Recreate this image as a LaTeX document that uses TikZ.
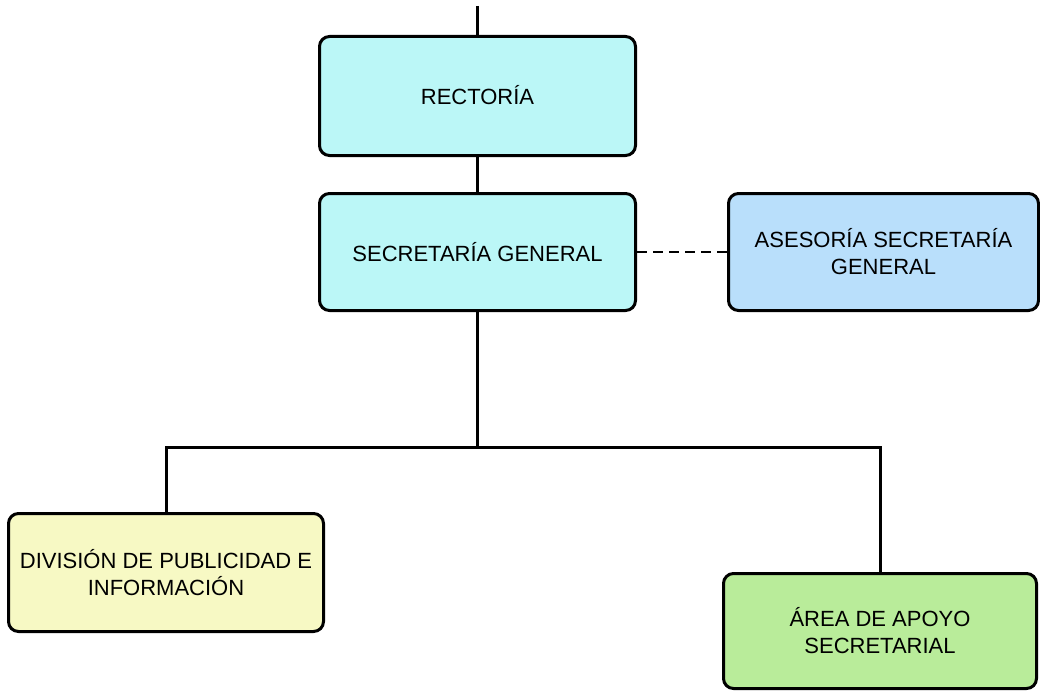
\documentclass[tikz,border=0pt]{standalone}
\usepackage{fontspec}
\setmainfont{Liberation Sans}
\definecolor{cyanbox}{HTML}{BBF7F7}
\definecolor{bluebox}{HTML}{B9DFFB}
\definecolor{yellowbox}{HTML}{F7F9C4}
\definecolor{greenbox}{HTML}{B9EC9A}
\tikzset{
  orgbox/.style={draw=black, line width=3pt, rounded corners=10pt, align=center,
    font=\fontsize{22pt}{27pt}\selectfont, text=black, inner sep=0pt},
  link/.style={draw=black, line width=3pt},
  dashlink/.style={draw=black, line width=2pt, dash pattern=on 10pt off 6pt}
}
\begin{document}
\begin{tikzpicture}[x=1pt,y=-1pt]
\useasboundingbox (0,0) rectangle (1040,693);
\node[orgbox, fill=cyanbox, minimum width=316pt, minimum height=119pt] (rect) at (477.5,96) {\raisebox{2pt}{RECTORÍA}};
\node[orgbox, fill=cyanbox, minimum width=316pt, minimum height=117pt] (sec) at (477.5,252) {SECRETARÍA GENERAL};
\node[orgbox, fill=bluebox, minimum width=310pt, minimum height=117pt] (ase) at (883.5,252) {ASESORÍA SECRETARÍA\\GENERAL};
\node[orgbox, fill=yellowbox, minimum width=315pt, minimum height=118pt] (div) at (166,572.5) {DIVISIÓN DE PUBLICIDAD E\\INFORMACIÓN};
\node[orgbox, fill=greenbox, minimum width=313pt, minimum height=115pt] (area) at (880,631) {ÁREA DE APOYO\\SECRETARIAL};
\coordinate (top) at (477.5,6);
\coordinate (j) at (477.5,447);
\draw[link] (top) -- (rect.north);
\draw[link] (rect.south) -- (sec.north);
\draw[link] (sec.south) -- (j);
\draw[link] (j) -| (div.north);
\draw[link] (j) -| (area.north);
\draw[dashlink] (sec.east) -- (ase.west);
\end{tikzpicture}
\end{document}
